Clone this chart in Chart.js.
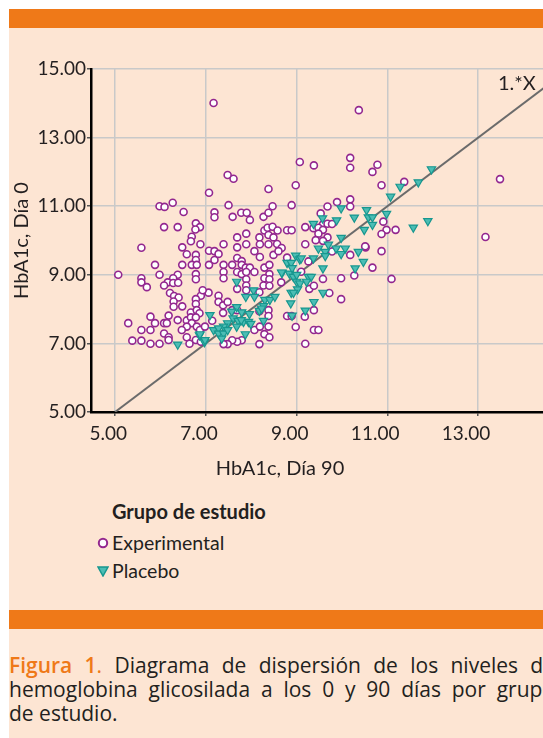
<!DOCTYPE html>
<html lang="es">
  <head>
    <meta charset="utf-8" />
    <script src="https://cdn.jsdelivr.net/npm/chart.js@4.4.0/dist/chart.umd.min.js"></script>
    <title>HbA1c</title>
    <style>
      body { margin: 0; width: 543px; height: 738px; overflow: hidden; background: #fff; position: relative; font-family: Lato, "Open Sans", sans-serif; color: #231f20; }
      .panel { position: absolute; left: 9px; top: 28px; width: 534px; height: 710px; background: #fde5d3; }
      .bar { position: absolute; left: 9px; width: 534px; height: 19px; background: #ef7918; }
      #wrap { position: absolute; left: 0; top: 0; width: 600px; height: 460px; }
      .xtitle { position: absolute; left: 180px; top: 455px; width: 200px; text-align: center; font-size: 20px; line-height: 24px; }
      .legend { position: absolute; left: 97px; top: 497px; font-size: 19.5px; line-height: 28px; }
      .legend b { display: block; margin-left: 15px; margin-bottom: 4px; font-size: 20px; }
      .legend div { display: flex; align-items: center; }
      .legend svg { margin-right: 3px; }
      .caption { position: absolute; left: 9px; top: 653px; width: 546px; font-family: "Open Sans", sans-serif; font-size: 21px; line-height: 24px; }
      .caption div { text-align: justify; text-align-last: justify; }
      .caption div.last { text-align-last: left; }
      .caption span { color: #ef7918; font-weight: 600; }
    </style>
  </head>
  <body>
    <div class="panel"></div>
    <div class="bar" style="top:9px"></div>
    <div class="bar" style="top:610px"></div>
    <div id="wrap"><canvas id="chart" width="600" height="460"></canvas></div>
    <div class="xtitle">HbA1c, Día 90</div>
    <div class="legend">
      <b>Grupo de estudio</b>
      <div><svg width="12" height="12"><circle cx="6" cy="6" r="4.2" fill="#fff" stroke="#93278f" stroke-width="2"/></svg>Experimental</div>
      <div><svg width="12" height="12"><polygon points="1,2 11,2 6,11" fill="#4cbdb4" stroke="#17978f" stroke-width="1.5"/></svg>Placebo</div>
    </div>
    <div class="caption">
      <div><span>Figura 1</span><span style="font-weight:400">.</span> Diagrama de dispersión de los niveles de</div>
      <div>hemoglobina glicosilada a los 0 y 90 días por grupo</div>
      <div class="last">de estudio.</div>
    </div>
    <script>
      // [HbA1c dia 90, HbA1c dia 0]
      const experimental = [
        [6.27,11.10],[5.98,11.00],[6.09,10.98],[6.51,10.83],[6.78,10.50],[6.87,10.39],[6.77,10.32],[6.08,10.39],[6.38,10.39],[6.69,10.11],
        [6.67,9.98],[6.88,9.89],[5.58,9.79],[6.48,9.80],[6.58,9.60],[6.78,9.58],[6.78,9.43],[5.88,9.29],[6.48,9.29],[6.69,9.29],
        [6.80,9.29],[7.07,11.39],[7.07,9.70],[7.07,9.29],[5.07,9.00],[5.98,9.00],[5.58,8.90],[5.58,8.78],[5.70,8.64],[6.38,9.00],
        [6.28,8.90],[6.16,8.78],[6.28,8.76],[6.39,8.77],[6.08,8.69],[6.78,9.02],[6.78,8.87],[7.06,8.48],[6.21,8.47],[6.30,8.38],
        [6.40,8.34],[6.29,8.22],[6.29,8.07],[6.48,8.08],[6.89,8.39],[6.78,8.29],[6.78,8.15],[6.67,7.90],[6.80,7.97],[6.86,7.88],
        [5.78,7.78],[6.18,7.81],[5.29,7.59],[5.88,7.59],[6.08,7.59],[6.14,7.59],[6.38,7.68],[6.58,7.67],[6.67,7.76],[6.78,7.76],
        [6.69,7.59],[6.58,7.49],[6.47,7.39],[6.80,7.49],[6.87,7.39],[6.98,7.49],[5.58,7.39],[5.78,7.39],[6.08,7.29],[6.18,7.18],
        [6.18,7.10],[6.58,7.18],[6.78,7.10],[6.89,7.05],[5.38,7.08],[5.58,7.08],[5.78,6.99],[5.98,6.99],[6.64,6.99],
        [9.07,12.29],[7.48,11.91],[7.61,11.80],[8.38,11.50],[8.98,11.61],[7.50,11.03],[8.47,11.00],[8.89,11.03],[7.19,10.82],[7.19,10.68],
        [7.59,10.69],[7.78,10.81],[7.90,10.81],[7.97,10.60],[8.27,10.69],[8.38,10.81],[9.19,10.39],[8.29,10.29],[8.36,10.37],[8.47,10.40],
        [8.58,10.29],[8.79,10.30],[8.89,10.30],[8.38,10.16],[8.49,10.09],[8.18,10.09],[7.89,10.20],[7.69,10.09],[8.19,9.89],[8.38,9.89],
        [8.57,9.90],[8.67,9.78],[9.19,9.89],[7.69,9.80],[7.89,9.89],[7.39,9.89],[7.19,9.69],[7.28,9.61],[7.19,9.43],[8.07,9.69],
        [8.19,9.52],[8.49,9.58],[8.60,9.69],[8.79,9.50],[7.69,9.49],[7.79,9.40],[7.58,9.29],[7.39,9.29],[7.79,9.29],[7.88,9.21],
        [7.97,9.21],[8.29,9.21],[8.40,9.29],[8.07,9.08],[7.39,9.08],[7.39,8.90],[7.69,9.08],[7.79,9.02],[7.89,9.08],[8.40,9.02],
        [8.29,8.90],[8.40,8.87],[7.89,8.87],[7.89,8.69],[7.89,8.55],[7.69,8.59],[8.27,8.69],[8.40,8.68],[6.93,8.55],[8.18,8.49],
        [7.28,8.39],[7.28,8.21],[7.38,8.11],[7.48,8.21],[7.38,7.89],[7.58,7.97],[7.69,7.97],[8.18,7.94],[8.38,7.97],[7.14,7.66],
        [8.07,7.39],[8.19,7.49],[8.38,7.49],[8.29,7.27],[8.40,7.18],[7.79,7.09],[7.69,7.05],[7.58,7.09],[7.48,6.98],[7.39,6.98],
        [8.18,6.98],[8.38,7.80],[8.79,7.80],[8.89,7.80],[8.98,7.48],[9.19,6.99],[8.66,8.78],
        [10.18,12.41],[10.18,12.12],[9.38,12.19],[10.78,12.21],[10.67,12.00],[10.87,11.61],[11.37,11.71],[10.18,11.20],[10.18,10.99],[9.89,11.12],
        [9.68,10.99],[9.53,10.79],[9.58,10.47],[9.68,10.49],[9.78,10.48],[9.37,10.36],[9.48,10.37],[9.58,10.31],[9.48,10.20],[9.68,10.09],
        [9.58,9.99],[9.42,10.01],[9.78,9.68],[10.18,9.58],[10.52,9.80],[10.91,10.55],[10.98,10.31],[11.18,10.31],[10.87,10.19],[10.87,9.69],
        [10.67,9.21],[10.27,8.98],[9.98,8.90],[9.58,8.88],[11.09,8.88],[9.28,8.59],[9.38,8.68],[9.72,8.47],[9.98,8.29],[9.38,7.97],
        [9.18,7.78],[9.38,7.39],[9.48,7.39],[9.26,9.39],[9.10,9.09],[10.51,9.83],
        [7.17,14.01],[10.37,13.80],[13.48,11.79],[13.16,10.10]
      ];
      const placebo = [
        [6.38,6.97],[6.86,7.24],[6.97,7.04],[7.09,7.83],[7.17,7.39],[6.87,7.27],[7.68,8.80],[8.05,8.55],[7.88,8.36],[8.07,8.36],
        [8.30,8.27],[8.41,8.27],[8.52,8.36],[8.18,7.95],[8.27,8.09],[7.68,8.06],[7.57,7.93],[7.79,7.91],[7.96,7.86],[8.27,7.66],
        [7.60,7.73],[7.71,7.66],[7.83,7.63],[7.94,7.63],[7.48,7.59],[7.39,7.49],[7.28,7.44],[7.28,7.29],[7.39,7.29],[7.48,7.39],
        [7.87,7.27],[7.99,7.57],[7.35,7.14],[6.98,7.10],[7.68,7.49],[7.78,7.68],[8.23,8.02],
        [8.98,9.56],[9.07,9.45],[8.79,9.35],[8.88,9.35],[8.68,9.06],[8.84,9.04],[8.93,8.94],[9.00,8.80],[9.07,8.75],
        [9.26,8.94],[8.88,8.48],[9.02,8.58],[8.87,8.17],[8.90,7.81],[9.19,7.96],[8.67,9.07],[8.93,8.48],[8.90,9.20],[9.00,9.00],
        [11.28,11.57],[11.07,11.28],[9.98,10.94],[10.54,10.89],[10.27,10.67],[10.58,10.68],[10.67,10.68],[10.98,10.78],[10.67,10.46],[10.49,10.31],
        [9.88,10.59],[9.57,10.65],[9.37,10.49],[9.98,10.08],[9.70,9.88],[9.87,9.77],[10.07,9.77],[9.48,9.77],[9.63,9.67],[9.63,9.55],
        [9.98,9.61],[10.36,9.67],[10.47,9.38],[10.29,9.19],[9.58,9.19],[9.37,9.48],[9.32,8.94],[9.22,8.80],[9.10,9.48],[9.58,8.48],
        [9.38,8.21],[11.97,12.08],[11.68,11.70],[11.57,10.38],[11.89,10.57]
      ];
      const identityLine = [[5, 5], [15, 15]];
      const xTickValues = [5, 7, 9, 11, 13];
      const yTickValues = [5, 7, 9, 11, 13, 15];

      const toPoints = arr => arr.map(p => ({ x: p[0], y: p[1] }));
      const font = { family: 'Lato', size: 19 };

      const lineLabel = {
        id: 'lineLabel',
        afterDatasetsDraw(chart) {
          const { ctx, scales } = chart;
          ctx.save();
          ctx.font = '20px Lato';
          ctx.fillStyle = '#231f20';
          ctx.textAlign = 'center';
          ctx.textBaseline = 'middle';
          ctx.fillText('1.*X', scales.x.getPixelForValue(13.85), scales.y.getPixelForValue(14.59));
          ctx.restore();
        }
      };

      new Chart(document.getElementById('chart'), {
        type: 'scatter',
        data: {
          datasets: [
            {
              label: 'Placebo',
              data: toPoints(placebo),
              pointStyle: 'triangle',
              rotation: 180,
              pointRadius: 4.8,
              backgroundColor: '#4cbdb4',
              borderColor: '#17978f',
              borderWidth: 1.2,
              order: 1
            },
            {
              label: 'Experimental',
              data: toPoints(experimental),
              pointStyle: 'circle',
              pointRadius: 3.5,
              backgroundColor: '#ffffff',
              borderColor: '#93278f',
              borderWidth: 1.6,
              order: 2
            },
            {
              type: 'line',
              label: '1.*X',
              data: toPoints(identityLine),
              borderColor: '#6b6b6b',
              borderWidth: 2,
              pointRadius: 0,
              order: 3
            }
          ]
        },
        options: {
          responsive: false,
          animation: false,
          layout: { padding: { left: 0, top: 69, right: 31, bottom: 0 } },
          plugins: { legend: { display: false }, tooltip: { enabled: false } },
          scales: {
            x: {
              type: 'linear',
              min: 4.47,
              max: 15,
              afterBuildTicks: axis => { axis.ticks = xTickValues.map(v => ({ value: v })); },
              afterFit: scale => { scale.height = 48; },
              ticks: {
                autoSkip: false, maxRotation: 0, align: 'end', labelOffset: 12, padding: 6,
                color: '#231f20', font,
                callback: v => v.toFixed(2)
              },
              grid: { color: '#c9c9c9', lineWidth: 1.5, tickLength: 4, tickColor: '#555' },
              border: { color: '#000', width: 2.5 }
            },
            y: {
              type: 'linear',
              min: 5,
              max: 15,
              afterBuildTicks: axis => { axis.ticks = yTickValues.map(v => ({ value: v })); },
              afterFit: scale => { scale.width = 91; },
              ticks: {
                autoSkip: false, padding: 1,
                color: '#231f20', font,
                callback: v => v.toFixed(2)
              },
              title: {
                display: true, text: 'HbA1c, Día 0', color: '#231f20',
                font: { family: 'Lato', size: 20 }, padding: { top: 10, bottom: 0 }
              },
              grid: { color: '#c9c9c9', lineWidth: 1.5, tickLength: 4, tickColor: '#555' },
              border: { color: '#000', width: 2.5 }
            }
          }
        },
        plugins: [lineLabel]
      });
    </script>
  </body>
</html>
